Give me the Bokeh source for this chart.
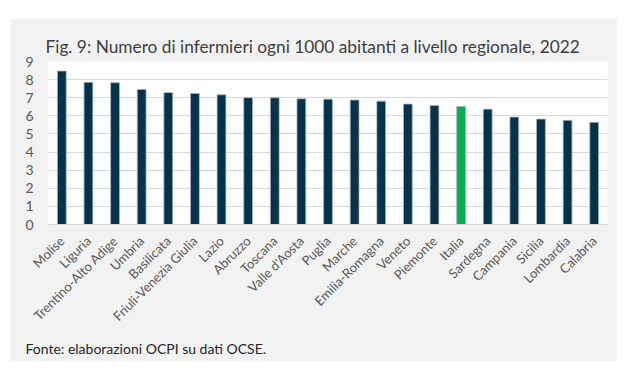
import math
from bokeh.plotting import figure
from bokeh.models import Title, FactorRange, Range1d, ColumnDataSource, SingleIntervalTicker
from bokeh.embed import file_html
from bokeh.resources import INLINE

regions = ["Molise", "Liguria", "Trentino-Alto Adige", "Umbria", "Basilicata",
           "Friuli-Venezia Giulia", "Lazio", "Abruzzo", "Toscana", "Valle d'Aosta",
           "Puglia", "Marche", "Emilia-Romagna", "Veneto", "Piemonte", "Italia",
           "Sardegna", "Campania", "Sicilia", "Lombardia", "Calabria"]
values = [8.47, 7.85, 7.83, 7.46, 7.28, 7.24, 7.16, 7.00, 7.00, 6.94,
          6.92, 6.87, 6.81, 6.65, 6.57, 6.52, 6.37, 5.93, 5.82, 5.75, 5.64]
highlight = "Italia"
title_text = "Fig. 9: Numero di infermieri ogni 1000 abitanti a livello regionale, 2022"
source_text = "Fonte: elaborazioni OCPI su dati OCSE."

NAVY = "#06324a"
GREEN = "#00b050"
colors = [GREEN if r == highlight else NAVY for r in regions]

src = ColumnDataSource(dict(x=regions, top=values, color=colors))

FONT = "Lato"
p = figure(x_range=FactorRange(*regions, range_padding=0), y_range=Range1d(0, 9),
           frame_width=559, frame_height=163,
           min_border_left=38, min_border_right=10, min_border_top=43, min_border_bottom=130,
           output_backend="svg", toolbar_location=None, margin=(18, 0, 0, 10),
           background_fill_color="white", border_fill_color="#f2f2f2",
           outline_line_color=None)

p.vbar(x="x", top="top", width=0.33, source=src, fill_color="color",
       line_color="#9fb3c2", line_width=0.8)

p.title = Title(text=title_text, align="left", offset=-3,
                text_font=FONT, text_font_size="17.3px",
                text_font_style="normal", text_color="#404040")
p.add_layout(Title(text=source_text, align="left", offset=-23,
                   text_font=FONT, text_font_size="14px", text_font_style="normal",
                   text_color="#262626"), "below")

p.yaxis.ticker = SingleIntervalTicker(interval=1)
p.yaxis.axis_line_color = None
p.yaxis.major_tick_line_color = None
p.yaxis.minor_tick_line_color = None
p.yaxis.major_label_text_font = FONT
p.yaxis.major_label_text_font_size = "14px"
p.yaxis.major_label_text_color = "#595959"
p.yaxis.major_label_standoff = 9

p.xaxis.axis_line_color = "#d9d9d9"
p.xaxis.major_tick_line_color = None
p.xaxis.minor_tick_line_color = None
p.xaxis.major_label_orientation = math.pi / 4
p.xaxis.major_label_text_font = FONT
p.xaxis.major_label_text_font_size = "13px"
p.xaxis.major_label_text_color = "#595959"
p.xaxis.major_label_standoff = 8

p.xgrid.grid_line_color = None
p.ygrid.grid_line_color = "#d9d9d9"
p.ygrid.grid_line_width = 1

open("out.html", "w").write(file_html(p, INLINE))
